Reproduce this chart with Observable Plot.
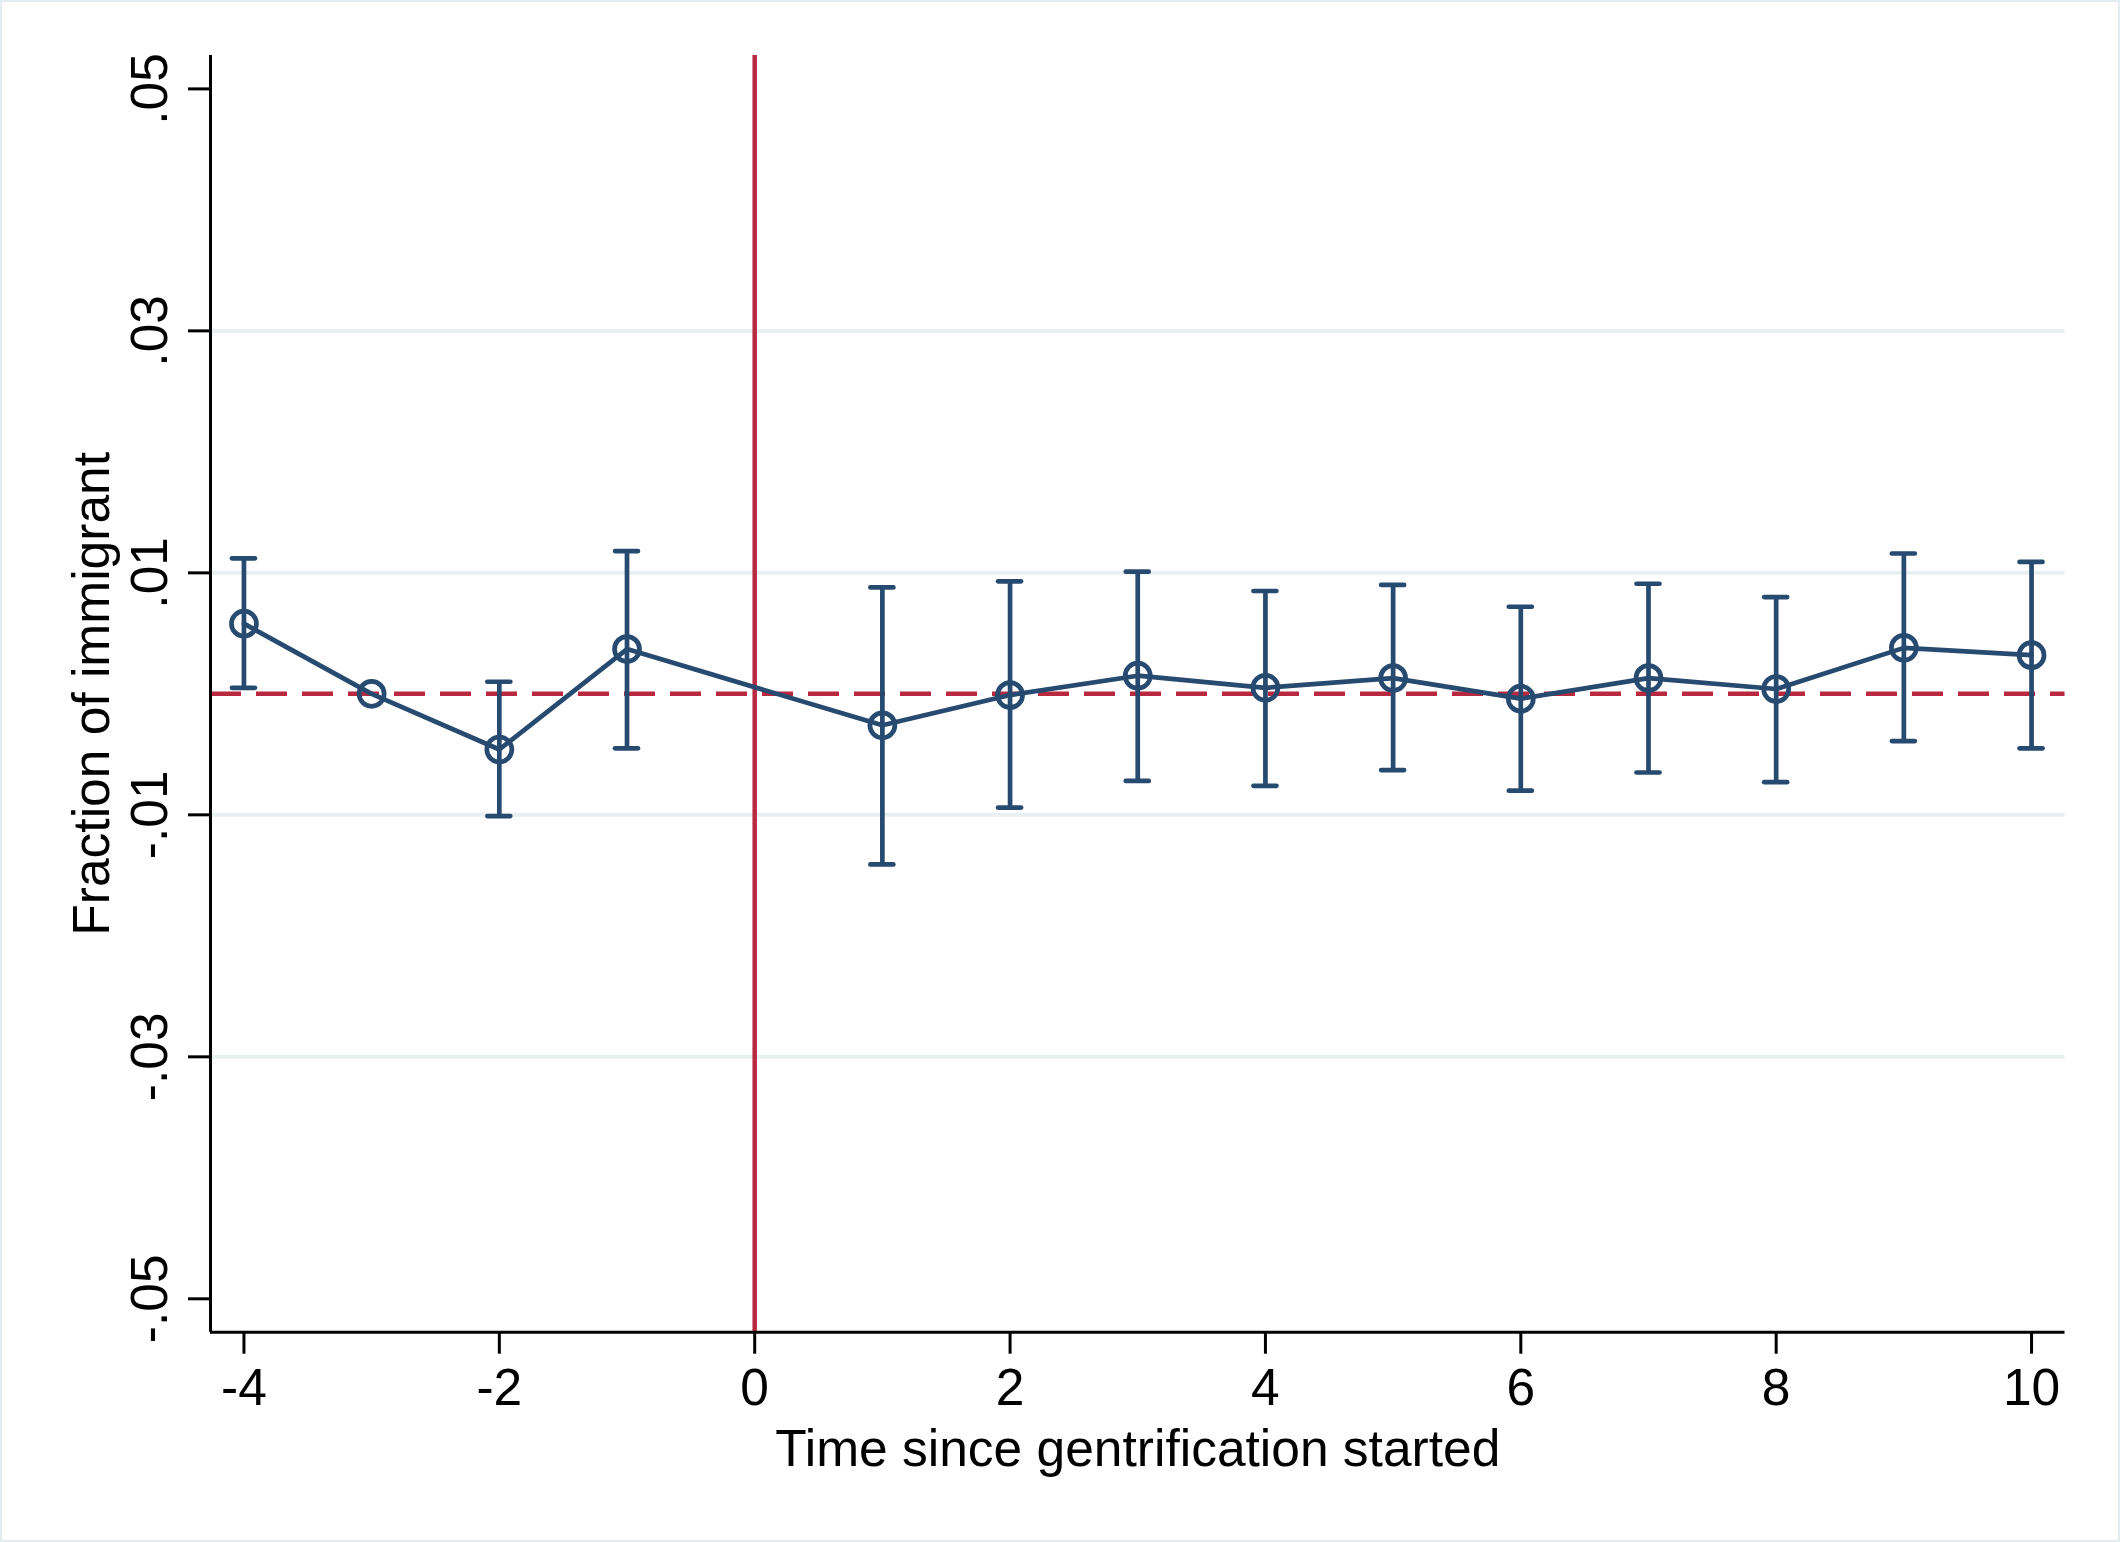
<!DOCTYPE html>
<html>
<head>
<meta charset="utf-8">
<script src="https://cdn.jsdelivr.net/npm/d3@7"></script>
<script src="https://cdn.jsdelivr.net/npm/@observablehq/plot@0.6"></script>
<style>
  html, body { margin: 0; padding: 0; background: #ffffff; }
  #chart svg { display: block; outline: 2px solid #e4ecef; outline-offset: -2px; }
</style>
</head>
<body>
<div id="chart"></div>
<script>
// Event time (years since gentrification started)
const periods = [-4, -3, -2, -1, 1, 2, 3, 4, 5, 6, 7, 8, 9, 10];
// Point estimates
const coef = [0.0058, 0.0000, -0.0046, 0.0037, -0.0026, -0.0001, 0.0015, 0.0005, 0.0013, -0.0004, 0.0013, 0.0004, 0.0038, 0.0032];
// Confidence interval bounds (reference period -3 has none)
const ciLow  = [0.0005, null, -0.0101, -0.0045, -0.0141, -0.0094, -0.0072, -0.0076, -0.0063, -0.0080, -0.0065, -0.0073, -0.0039, -0.0045];
const ciHigh = [0.0112, null,  0.0010,  0.0118,  0.0088,  0.0093,  0.0101,  0.0085,  0.0090,  0.0072,  0.0091,  0.0080,  0.0116,  0.0109];

// Axis ticks and labels
const xTicks = [-4, -2, 0, 2, 4, 6, 8, 10];
const yTicks = [0.05, 0.03, 0.01, -0.01, -0.03, -0.05];
const yTickLabels = [".05", ".03", ".01", "-.01", "-.03", "-.05"];
const yGrid = [0.03, 0.01, -0.01, -0.03];
const xDomain = [-4.262, 10.262];
const yDomain = [-0.05276, 0.05276];
const xTitle = "Time since gentrification started";
const yTitle = "Fraction of immigrant";

const rows = periods.map((t, i) => ({t, b: coef[i], lo: ciLow[i], hi: ciHigh[i]}));
const ciRows = rows.filter(d => d.lo != null);

const navy = "#274a70";
const red = "#b8293f";
const capHalf = 0.09;
const fs = 51.5;

const chart = Plot.plot({
  width: 2120,
  height: 1542,
  marginLeft: 210,
  marginRight: 55.5,
  marginTop: 55,
  marginBottom: 210.3,
  style: {fontFamily: "'Liberation Sans', Arial, Helvetica, sans-serif", background: "#ffffff", color: "#000000"},
  x: {domain: xDomain},
  y: {domain: yDomain},
  marks: [
    Plot.gridY(yGrid, {stroke: "#e9f0f2", strokeOpacity: 1, strokeWidth: 4}),
    Plot.ruleY([0], {stroke: red, strokeWidth: 4.5, strokeDasharray: "31,15"}),
    Plot.ruleX([0], {stroke: red, strokeWidth: 4.5}),
    Plot.ruleX([xDomain[0]], {stroke: "#000", strokeWidth: 3}),
    Plot.ruleY([yDomain[0]], {stroke: "#000", strokeWidth: 3}),
    Plot.axisX({ticks: xTicks, tickSize: 22, tickPadding: 14.6, strokeWidth: 3, fontSize: fs, label: null, tickFormat: d => String(d).replace("−", "-")}),
    Plot.axisY({ticks: yTicks, tickSize: 22, tickPadding: 21.6, strokeWidth: 3, fontSize: fs, label: null, tickRotate: -90,
      tickFormat: d => yTickLabels[yTicks.findIndex(v => Math.abs(v - d) < 1e-9)]}),
    Plot.ruleX(ciRows, {x: "t", y1: "lo", y2: "hi", stroke: navy, strokeWidth: 4.7}),
    Plot.ruleY(ciRows, {y: "lo", x1: d => d.t - capHalf, x2: d => d.t + capHalf, stroke: navy, strokeWidth: 4.7, strokeLinecap: "round"}),
    Plot.ruleY(ciRows, {y: "hi", x1: d => d.t - capHalf, x2: d => d.t + capHalf, stroke: navy, strokeWidth: 4.7, strokeLinecap: "round"}),
    Plot.line(rows, {x: "t", y: "b", stroke: navy, strokeWidth: 4.7, strokeLinejoin: "round"}),
    Plot.dot(rows, {x: "t", y: "b", r: 12.5, stroke: navy, strokeWidth: 4.7, fill: "none"}),
    Plot.text([xTitle], {frameAnchor: "bottom", dy: 133.3, lineAnchor: "bottom", textAnchor: "middle", fontSize: fs, fill: "#000"}),
    Plot.text([yTitle], {frameAnchor: "left", dx: -102, rotate: -90, lineAnchor: "bottom", textAnchor: "middle", fontSize: fs, fill: "#000"})
  ]
});
document.getElementById("chart").appendChild(chart);
</script>
</body>
</html>
